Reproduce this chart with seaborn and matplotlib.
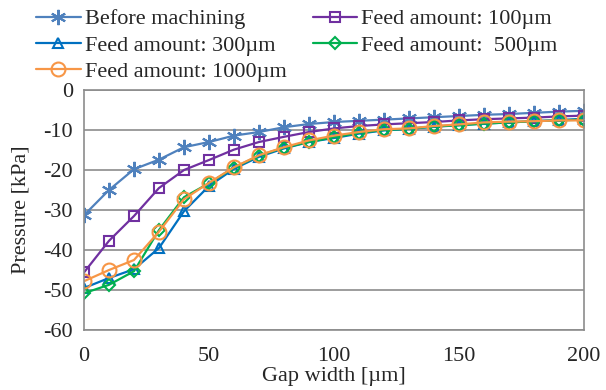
import numpy as np
import pandas as pd
import matplotlib
matplotlib.use('Agg')
import matplotlib.pyplot as plt
import seaborn as sns

# Gap width [um] and pressure [kPa]
gap = [0, 10, 20, 30, 40, 50, 60, 70, 80, 90, 100,
       110, 120, 130, 140, 150, 160, 170, 180, 190, 200]
before = [-31.3, -25, -19.8, -17.4, -14.3, -13, -11.4, -10.5, -9.3, -8.5, -8,
          -7.7, -7.4, -7.1, -6.8, -6.5, -6.2, -6, -5.7, -5.4, -5.2]
feed100 = [-45.6, -37.7, -31.5, -24.5, -20, -17.5, -14.9, -13, -11.7, -10.5, -9.6,
           -9, -8.6, -8.3, -8, -7.6, -7.3, -7.1, -6.9, -6.6, -6.4]
feed300 = [-49.5, -47, -44.8, -39.5, -30.3, -24, -19.7, -16.7, -14.6, -13, -12,
           -10.9, -10.1, -9.7, -9.2, -8.8, -8.4, -8.1, -7.8, -7.5, -7.2]
feed500 = [-50.8, -48.7, -45.3, -35, -26.8, -23.3, -19.4, -16.4, -14.4, -13, -11.8,
           -10.7, -10, -9.7, -9.1, -8.8, -8.4, -8.1, -7.8, -7.6, -7.4]
feed1000 = [-47.8, -45, -42.5, -35.4, -27.3, -23.2, -19.3, -16.3, -14.3, -12.6, -11.4,
            -10.5, -9.8, -9.6, -9, -8.6, -8.1, -7.9, -7.8, -7.6, -7.6]

labels = ['Before machining', 'Feed amount: 100\u00b5m', 'Feed amount: 300\u00b5m',
          'Feed amount:  500\u00b5m', 'Feed amount: 1000\u00b5m']
series = [before, feed100, feed300, feed500, feed1000]
colors = ['#4F81BD', '#7030A0', '#0070C0', '#00B050', '#F79646']
markers = [(6, 2, 0), 's', '^', 'D', 'o']
msizes = [11, 7.5, 7, 6.5, 10]

sns.set_style('white')
plt.rcParams['font.family'] = ['Liberation Serif', 'DejaVu Serif']
plt.rcParams['axes.unicode_minus'] = False

fig = plt.figure(figsize=(6.06, 3.90), dpi=100)
ax = fig.add_axes([0.1386, 0.1538, 0.8251, 0.6154])

handles = []
for lab, vals, c, m, ms in zip(labels, series, colors, markers, msizes):
    df = pd.DataFrame({'gap': gap, 'p': vals})
    sns.lineplot(data=df, x='gap', y='p', ax=ax, color=c, marker=m, markersize=ms,
                 markerfacecolor='none', markeredgecolor=c, markeredgewidth=1.5,
                 linewidth=1.6, label=lab, legend=False)
    handles.append(ax.lines[-1])

ax.set_xlim(0, 200)
ax.set_ylim(-60, 0)
ax.set_xticks([0, 50, 100, 150, 200])
ax.set_yticks(np.arange(-60, 1, 10))
ax.yaxis.grid(True, color='#8c8c8c', linewidth=1.2)
ax.set_axisbelow(True)
for s in ax.spines.values():
    s.set_color('#8c8c8c')
    s.set_linewidth(1.2)
ax.tick_params(axis='x', direction='in', length=5, color='#8c8c8c', width=1.2,
               pad=12, labelsize=16)
ax.tick_params(axis='y', length=0, pad=8, labelsize=16)
ax.set_xlabel('Gap width [\u00b5m]', fontsize=16, labelpad=1)
ax.set_ylabel('Pressure [kPa]', fontsize=16, labelpad=9)

order = [0, 2, 4, 1, 3]
fig.legend([handles[i] for i in order], [labels[i] for i in order],
           loc='upper left', bbox_to_anchor=(0.045, 1.0), ncol=2, frameon=False,
           fontsize=16, handlelength=2.0, handletextpad=0.18, columnspacing=1.2,
           labelspacing=0.25, borderaxespad=0.0)

fig.savefig('out.png', dpi=100)
